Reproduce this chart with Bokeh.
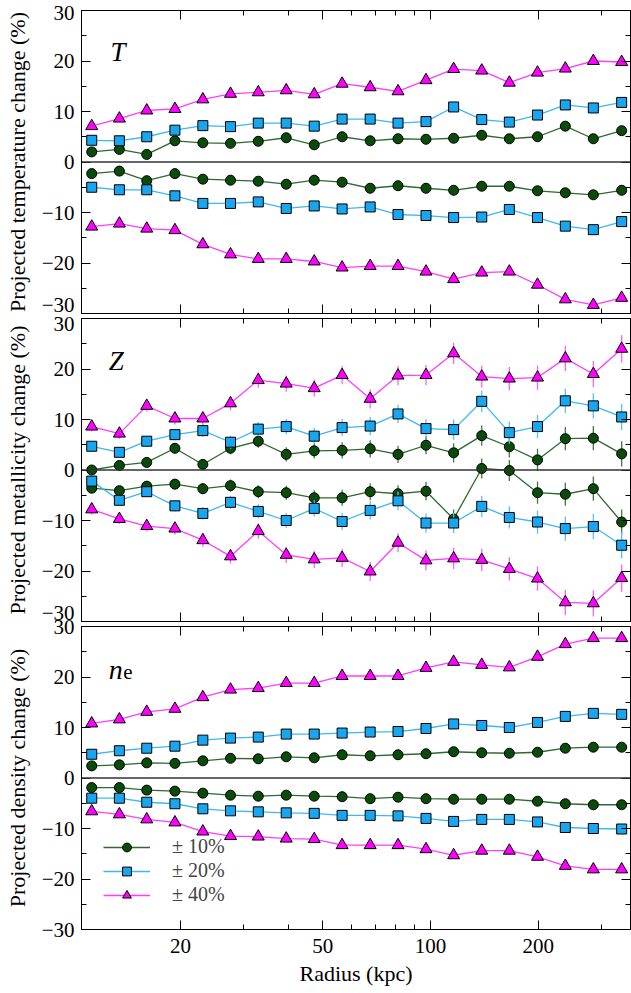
import math
from bokeh.plotting import figure
from bokeh.models import (ColumnDataSource, FixedTicker, LinearAxis, LogAxis, Span, Label,
                          Legend, LegendItem, CustomJSTickFormatter, Range1d)
from bokeh.layouts import column
from bokeh.embed import file_html
from bokeh.resources import INLINE

# ---------------- data ----------------
radius = [11.3, 13.5, 16.1, 19.3, 23.1, 27.6, 33.0, 39.5, 47.3, 56.6,
          67.8, 81.1, 97.1, 116, 139, 166, 199, 238, 285, 342]

T_pos_10 = [2.0, 2.5, 1.5, 4.2, 3.8, 3.7, 4.1, 4.8, 3.4, 5.0, 4.2, 4.6, 4.5, 4.7, 5.3, 4.6, 5.0, 7.1, 4.6, 6.2]
T_neg_10 = [-2.3, -1.8, -3.7, -2.3, -3.4, -3.6, -3.8, -4.4, -3.6, -4.0, -5.2, -4.7, -5.2, -5.6, -4.8, -4.8, -5.7, -6.1, -6.5, -5.6]
T_pos_20 = [4.3, 4.2, 5.0, 6.3, 7.2, 7.0, 7.7, 7.7, 7.1, 8.5, 8.5, 7.7, 8.0, 10.9, 8.4, 7.9, 9.3, 11.3, 10.7, 11.8]
T_neg_20 = [-5.0, -5.5, -5.5, -6.7, -8.2, -8.2, -7.9, -9.2, -8.7, -9.3, -8.9, -10.4, -10.6, -11.0, -10.9, -9.4, -11.0, -12.7, -13.4, -11.8]
T_pos_40 = [7.1, 8.6, 10.2, 10.5, 12.4, 13.5, 13.8, 14.2, 13.4, 15.5, 14.8, 14.0, 16.2, 18.4, 18.1, 15.7, 17.7, 18.5, 20.0, 19.8]
T_neg_40 = [-12.8, -12.2, -13.2, -13.5, -16.3, -18.3, -19.2, -19.2, -19.7, -20.9, -20.6, -20.6, -21.7, -23.2, -21.9, -21.7, -24.3, -27.2, -28.3, -26.9]

Z_pos_10 = [0.0, 0.9, 1.5, 4.3, 1.1, 4.3, 5.7, 3.1, 3.8, 3.9, 4.2, 3.1, 4.9, 3.4, 6.8, 4.6, 2.0, 6.2, 6.3, 3.2]
Z_neg_10 = [-3.6, -4.1, -3.2, -2.8, -3.7, -3.1, -4.3, -4.5, -5.5, -5.5, -4.3, -4.7, -4.2, -9.7, 0.3, -0.1, -4.5, -4.8, -3.7, -10.3]
Z_pos_20 = [4.7, 3.5, 5.7, 7.0, 7.8, 5.5, 8.1, 8.6, 6.7, 8.4, 8.7, 11.1, 8.2, 8.0, 13.6, 7.4, 8.6, 13.7, 12.7, 10.5]
Z_neg_20 = [-2.2, -6.0, -4.3, -7.1, -8.6, -6.4, -8.2, -10.0, -7.6, -10.2, -8.0, -6.1, -10.5, -10.5, -7.2, -9.4, -10.3, -11.6, -11.2, -14.9]
Z_pos_40 = [8.6, 7.2, 12.7, 10.2, 10.2, 13.2, 17.8, 17.1, 16.2, 18.8, 14.1, 18.7, 18.8, 23.1, 18.5, 18.1, 18.3, 22.1, 19.0, 24.0]
Z_neg_40 = [-7.8, -9.7, -11.1, -11.6, -13.9, -17.1, -12.1, -16.8, -17.7, -17.4, -20.1, -14.4, -17.9, -17.5, -17.8, -19.6, -21.5, -26.2, -26.4, -21.4]
Z_err_10 = [0.7, 0.8, 0.9, 1.0, 1.1, 1.2, 1.3, 1.4, 1.5, 1.6, 1.7, 1.7, 1.8, 1.9, 2.0, 2.1, 2.2, 2.3, 2.4, 2.5]
Z_err_20 = [0.8, 0.9, 1.0, 1.1, 1.2, 1.3, 1.4, 1.5, 1.6, 1.7, 1.8, 1.8, 1.9, 2.0, 2.1, 2.2, 2.3, 2.4, 2.5, 2.6]
Z_err_40 = [1.0, 1.0, 1.1, 1.2, 1.3, 1.4, 1.5, 1.6, 1.7, 1.8, 1.9, 1.9, 2.0, 2.1, 2.2, 2.3, 2.4, 2.5, 2.6, 2.7]

n_pos_10 = [2.4, 2.6, 3.0, 2.9, 3.4, 3.9, 3.8, 4.2, 4.0, 4.6, 4.4, 4.6, 4.8, 5.2, 5.0, 4.9, 5.1, 5.9, 6.1, 6.1]
n_neg_10 = [-1.9, -1.9, -2.4, -2.6, -3.0, -3.4, -3.6, -3.4, -3.6, -3.7, -4.1, -3.8, -4.1, -4.2, -4.2, -4.2, -4.6, -5.1, -5.3, -5.3]
n_pos_20 = [4.7, 5.4, 5.9, 6.3, 7.5, 7.9, 8.1, 8.7, 8.7, 8.9, 9.1, 9.2, 9.8, 10.7, 10.4, 10.0, 11.0, 12.2, 12.8, 12.6]
n_neg_20 = [-4.0, -4.0, -4.8, -5.1, -6.1, -6.5, -6.7, -6.9, -7.0, -7.4, -7.4, -7.5, -8.0, -8.6, -8.2, -8.2, -8.7, -9.8, -10.0, -10.1]
n_pos_40 = [10.8, 11.6, 13.1, 13.7, 16.0, 17.5, 17.8, 18.8, 18.8, 20.2, 20.2, 20.2, 21.8, 23.0, 22.4, 21.9, 24.0, 26.5, 27.7, 27.7]
n_neg_40 = [-6.6, -7.2, -8.2, -8.8, -10.6, -11.5, -11.6, -12.0, -12.1, -13.3, -13.3, -13.3, -14.1, -15.3, -14.4, -14.4, -15.6, -17.4, -18.1, -18.1]

y_tick_values = [-30, -20, -10, 0, 10, 20, 30]
y_minor_values = [-25, -15, -5, 5, 15, 25]
x_tick_values = [20, 50, 100, 200]
x_minor_values = [30, 40, 60, 70, 80, 90, 300]
legend_labels = ["\u00b1 10%", "\u00b1 20%", "\u00b1 40%"]
y_titles = ["Projected temperature change (%)",
            "Projected metallicity change (%)",
            "Projected density change (%)"]

# ---------------- styles ----------------
FONT = "Liberation Serif"
styles = {
    10: dict(marker="circle", size=10, fill="#0a4a0a", line="#2b6b2b", err="#3d7a3d"),
    20: dict(marker="square", size=10, fill="#19a6ee", line="#3cb9f0", err="#55c3f5"),
    40: dict(marker="triangle", size=12, fill="#ff00ff", line="#ff3cff", err="#ff60ff"),
}
# whether the end labels (+30 top / -30 bottom) are nudged inward, per panel
end_shift = [(False, True), (True, True), (False, False)]

x_range = Range1d(10.58, 362)
y_ticker = FixedTicker(ticks=y_tick_values, minor_ticks=y_minor_values)
x_ticker = FixedTicker(ticks=x_tick_values, minor_ticks=x_minor_values)
int_fmt = CustomJSTickFormatter(code="return tick.toFixed(0);")
blank_fmt = CustomJSTickFormatter(code="return '';")


def y_formatter(shift_top, shift_bottom):
    code = ("var s = tick < 0 ? '\u2212' + Math.abs(tick) : String(tick);"
            "if (tick >= 30 && %s) { return '\\n' + s; }"
            "if (tick <= -30 && %s) { return s + '\\n'; }"
            "return s;") % ("true" if shift_top else "false", "true" if shift_bottom else "false")
    return CustomJSTickFormatter(code=code)


def style_axis(ax, labels=True):
    ax.major_tick_in = 9
    ax.major_tick_out = 0
    ax.minor_tick_in = 5
    ax.minor_tick_out = 0
    ax.axis_line_color = "black"
    ax.major_tick_line_color = "black"
    ax.minor_tick_line_color = "black"
    ax.major_label_text_font = FONT
    ax.major_label_text_color = "black"
    ax.axis_label_text_font = FONT
    ax.axis_label_text_font_style = "normal"
    ax.axis_label_text_color = "black"
    if labels:
        ax.major_label_text_font_size = "21px"
        ax.axis_label_text_font_size = "22px"
    else:
        ax.formatter = blank_fmt
        ax.major_label_text_font_size = "0px"
        ax.major_label_standoff = 0


def make_panel(idx, height, top, bottom, show_x_labels, margin_top):
    p = figure(width=631, height=height, x_axis_type="log", x_range=x_range,
               y_range=Range1d(-30, 30), output_backend="svg", toolbar_location=None,
               min_border_left=81, min_border_right=1, min_border_top=top,
               min_border_bottom=bottom, margin=(margin_top, 0, 0, 0))
    p.grid.grid_line_color = None
    p.outline_line_color = "black"
    p.background_fill_alpha = 0
    if margin_top < 0:
        p.border_fill_alpha = 0
    else:
        p.border_fill_color = "white"

    p.yaxis.ticker = y_ticker
    p.yaxis.formatter = y_formatter(*end_shift[idx])
    p.yaxis.axis_label = y_titles[idx]
    p.yaxis.axis_label_standoff = 9
    p.yaxis.major_label_standoff = 7
    style_axis(p.yaxis[0])
    p.yaxis.major_label_text_line_height = 0.36

    p.xaxis.ticker = x_ticker
    if show_x_labels:
        p.xaxis.formatter = int_fmt
    style_axis(p.xaxis[0], labels=show_x_labels)
    if show_x_labels:
        p.xaxis.axis_label = "Radius (kpc)"
        p.xaxis.major_label_standoff = 9
        p.xaxis.axis_label_standoff = 5

    right = LinearAxis(ticker=y_ticker)
    style_axis(right, labels=False)
    p.add_layout(right, "right")
    above = LogAxis(ticker=x_ticker)
    style_axis(above, labels=False)
    p.add_layout(above, "above")

    p.add_layout(Span(location=0, dimension="width", line_color="#333333", line_width=1.5))
    return p


def draw(p, vals, level, err=None):
    st = styles[level]
    data = dict(x=radius, y=vals)
    if err is not None:
        data["lo"] = [v - e for v, e in zip(vals, err)]
        data["hi"] = [v + e for v, e in zip(vals, err)]
    src = ColumnDataSource(data)
    if err is not None:
        p.segment(x0="x", y0="lo", x1="x", y1="hi", source=src,
                  line_color=st["err"], line_width=1.3)
    ln = p.line("x", "y", source=src, line_color=st["line"], line_width=1.3)
    sc = p.scatter("x", "y", source=src, marker=st["marker"], size=st["size"],
                   fill_color=st["fill"], line_color="black", line_width=1)
    return ln, sc


# frames: 10-313, 318-621, 626-929 (page px)
p1 = make_panel(0, 325, 10, 12, False, 0)      # canvas 0-325
p2 = make_panel(1, 330, 15, 12, False, -22)    # canvas 303-633
p3 = make_panel(2, 382, 15, 64, True, -22)     # canvas 611-993

for lvl, pos, neg in [(10, T_pos_10, T_neg_10), (20, T_pos_20, T_neg_20), (40, T_pos_40, T_neg_40)]:
    draw(p1, pos, lvl)
    draw(p1, neg, lvl)

for lvl, pos, neg, err in [(10, Z_pos_10, Z_neg_10, Z_err_10), (20, Z_pos_20, Z_neg_20, Z_err_20),
                           (40, Z_pos_40, Z_neg_40, Z_err_40)]:
    draw(p2, pos, lvl, err)
    draw(p2, neg, lvl, err)

legend_items = []
for i, (lvl, pos, neg) in enumerate([(10, n_pos_10, n_neg_10), (20, n_pos_20, n_neg_20),
                                     (40, n_pos_40, n_neg_40)]):
    ln, sc = draw(p3, pos, lvl)
    draw(p3, neg, lvl)
    st = styles[lvl]
    dash = p3.scatter(x=[], y=[], marker="dash", angle=math.pi / 2, size=15,
                      line_color=st["err"], line_width=1.3)
    legend_items.append(LegendItem(label=legend_labels[i], renderers=[ln, dash, sc]))

legend = Legend(items=legend_items, location=(22, 23), padding=0, margin=0,
                border_line_color=None, background_fill_alpha=0,
                label_text_font=FONT, label_text_font_size="20px",
                glyph_width=47, glyph_height=22, label_height=22,
                label_standoff=22, spacing=1)
p3.add_layout(legend)

# panel letters
for p, txt, xv, yv in [(p1, "T", 12.75, 21.8), (p2, "Z", 12.6, 21.6)]:
    p.add_layout(Label(x=xv, y=yv, text=txt, text_font=FONT, text_font_style="italic",
                       text_font_size="27px", text_baseline="alphabetic", text_color="black"))
p3.add_layout(Label(x=12.6, y=21.5, text="n", text_font=FONT, text_font_style="italic",
                    text_font_size="28px", text_baseline="alphabetic", text_color="black"))
p3.add_layout(Label(x=13.85, y=21.0, text="e", text_font=FONT, text_font_style="normal",
                    text_font_size="21px", text_baseline="alphabetic", text_color="black"))

layout = column(p1, p2, p3, spacing=0)
open("out.html", "w").write(file_html(layout, INLINE))
